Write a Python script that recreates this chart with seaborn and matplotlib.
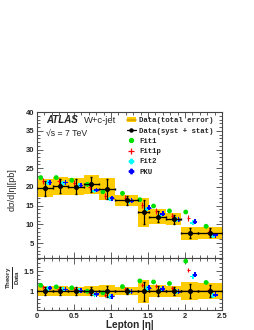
import numpy as np
import pandas as pd
import matplotlib
matplotlib.use("Agg")
import matplotlib.pyplot as plt
from matplotlib.lines import Line2D
from matplotlib.patches import Patch
from matplotlib.ticker import MultipleLocator
import seaborn as sns

# ---- data ----
bin_edges = [0, 0.21, 0.42, 0.63, 0.84, 1.05, 1.37, 1.52, 1.74, 1.95, 2.18, 2.5]
data_val = [19.6, 20.3, 20.1, 20.7, 19.5, 16.4, 13.2, 12.1, 11.4, 7.6, 7.8]
data_err_total = [2.4, 2.4, 2.3, 2.5, 2.9, 1.55, 3.8, 1.9, 1.6, 1.7, 1.6]
data_err_bar = [2.0, 1.9, 1.9, 2.0, 2.6, 1.3, 3.2, 1.5, 1.2, 1.3, 1.2]

fit1 = [22.5, 22.5, 21.8, 20.7, 18.7, 18.3, 16.6, 14.9, 13.6, 13.3, 9.5]
fit1p = [21.7, 21.6, 21.1, 19.9, 17.7, 17.1, 15.3, 13.6, 12.2, 11.6, 8.0]
fit2 = [21.1, 21.0, 20.3, 18.9, 16.8, 16.2, 14.1, 12.5, 11.2, 10.4, 6.9]
pku = [21.2, 21.2, 20.4, 19.2, 17.0, 16.3, 14.4, 12.8, 11.3, 10.7, 7.1]

model_names = ["Fit1", "Fit1p", "Fit2", "PKU"]
model_vals = [fit1, fit1p, fit2, pku]
model_shift = [-0.055, -0.02, 0.04, 0.07]
model_yerr = [0.35, 0.8, 0.35, 0.35]
model_colors = {"Fit1": "#00e000", "Fit1p": "#ff0000", "Fit2": "#00ffff", "PKU": "#0000ff"}
# Fit1p is drawn as bare error crosses, so it gets no marker here
model_markers = {"Fit1": "o", "Fit2": "P", "PKU": "P"}

sns.set_style("ticks")
plt.rcParams["font.family"] = ["Liberation Sans", "DejaVu Sans"]
plt.rcParams["mathtext.fontset"] = "custom"
plt.rcParams["mathtext.bf"] = "Liberation Sans:bold"
plt.rcParams["mathtext.rm"] = "Liberation Sans"

edges = np.array(bin_edges)
centers = 0.5 * (edges[:-1] + edges[1:])
widths = np.diff(edges)
dval = np.array(data_val)
etot = np.array(data_err_total)
ebar = np.array(data_err_bar)

rows = []
for name, vals, dx in zip(model_names, model_vals, model_shift):
    for c, v, d in zip(centers, vals, dval):
        rows.append({"model": name, "eta": c + dx, "xsec": v, "ratio": v / d})
df = pd.DataFrame(rows)

band_col = "#ffcc00"
band_line = "#d9a400"

fig = plt.figure(figsize=(2.55, 3.3), dpi=100)
ax = fig.add_axes([0.145, 0.218, 0.7255, 0.4424])
axr = fig.add_axes([0.145, 0.0606, 0.7255, 0.1576], sharex=ax)

# ---- upper panel ----
ax.bar(centers, 2 * etot, bottom=dval - etot, width=widths, color=band_col, lw=0, zorder=1)
ax.hlines(dval, edges[:-1], edges[1:], color=band_line, lw=1.0, zorder=1.5)
ax.errorbar(centers, dval, yerr=ebar, xerr=widths / 2, fmt="o", color="black",
            ms=2.6, lw=0.9, capsize=1.0, zorder=4)

for name, yerr in zip(model_names, model_yerr):
    sub = df[df.model == name]
    ax.errorbar(sub.eta, sub.xsec, yerr=yerr, xerr=0.02, fmt="none",
                ecolor=model_colors[name], lw=0.8, zorder=2)
    axr.errorbar(sub.eta, sub.ratio, yerr=yerr / 16, xerr=0.02, fmt="none",
                 ecolor=model_colors[name], lw=0.8, zorder=2)

sub = df[df.model != "Fit1p"]
pal = {k: model_colors[k] for k in model_markers}
sns.scatterplot(data=sub, x="eta", y="xsec", hue="model", style="model",
                palette=pal, markers=model_markers, s=12,
                edgecolor="none", legend=False, ax=ax, zorder=3)
sns.scatterplot(data=sub, x="eta", y="ratio", hue="model", style="model",
                palette=pal, markers=model_markers, s=12,
                edgecolor="none", legend=False, ax=axr, zorder=3)

ax.set_xlim(0, 2.5)
ax.set_ylim(1, 40)
ax.yaxis.set_minor_locator(MultipleLocator(1))
ax.set_yticks([5, 10, 15, 20, 25, 30, 35, 40])
ax.set_xlabel("")
ax.set_ylabel("dσ/d|η|[pb]", fontsize=6.5)
ax.yaxis.set_label_coords(-0.11, 0.47)
ax.tick_params(labelbottom=False)

ax.text(0.05, 0.945, "ATLAS", transform=ax.transAxes, fontsize=7,
        fontweight="bold", fontstyle="italic", va="center")
ax.text(0.255, 0.945, "W+c-jet", transform=ax.transAxes, fontsize=6.8, va="center")
ax.text(0.05, 0.855, "√s = 7 TeV", transform=ax.transAxes, fontsize=6.3, va="center")

handles = [
    (Patch(facecolor=band_col, edgecolor="none"), Line2D([], [], color=band_line, lw=1.2)),
    Line2D([], [], color="black", marker="o", ms=2.2, lw=0.9),
    Line2D([], [], color=model_colors["Fit1"], marker="o", ms=2.8, lw=0),
    Line2D([], [], color=model_colors["Fit1p"], marker="+", ms=5, lw=0, mew=0.9),
    Line2D([], [], color=model_colors["Fit2"], marker="P", ms=3.2, lw=0),
    Line2D([], [], color=model_colors["PKU"], marker="P", ms=3.2, lw=0),
]
labels = ["Data(total error)", "Data(syst + stat)", "Fit1", "Fit1p", "Fit2", "PKU"]
ax.legend(handles, labels, loc="upper left", bbox_to_anchor=(0.47, 0.985),
          frameon=False, handlelength=1.2, handletextpad=0.5, labelspacing=0.42,
          borderaxespad=0, prop={"family": "Liberation Mono", "weight": "bold", "size": 5.3})

# ---- ratio panel ----
rtot = etot / dval
rbar = ebar / dval
axr.bar(centers, 2 * rtot, bottom=1 - rtot, width=widths, color=band_col, lw=0, zorder=1)
axr.bar(centers, 0.06, bottom=0.97, width=widths, color=band_line, lw=0, zorder=1.5)
axr.errorbar(centers, np.ones_like(centers), yerr=rbar, xerr=widths / 2, fmt="o",
             color="black", ms=2.6, lw=0.9, capsize=1.0, zorder=4)

axr.set_ylim(0.53, 1.83)
axr.set_yticks([1, 1.5])
axr.set_yticklabels(["1", "1.5"])
axr.yaxis.set_minor_locator(MultipleLocator(0.1))
axr.set_xticks([0, 0.5, 1, 1.5, 2, 2.5])
axr.set_xticklabels(["0", "0.5", "1", "1.5", "2", "2.5"])
axr.xaxis.set_minor_locator(MultipleLocator(0.1))
axr.set_xlabel("Lepton |η|", fontsize=7.2, fontweight="bold", labelpad=0)
axr.set_ylabel(r"$\frac{\mathbf{Theory}}{\mathbf{Data}}$", fontsize=6.3)
axr.yaxis.set_label_coords(-0.081, 0.62)

for a in (ax, axr):
    a.tick_params(which="both", direction="in", top=True, right=True,
                  labelsize=5.5, width=0.6, color="#444444", pad=2)
    a.tick_params(which="major", length=4)
    a.tick_params(which="minor", length=2)
    for lab in a.get_xticklabels() + a.get_yticklabels():
        lab.set_fontweight("bold")
    for sp in a.spines.values():
        sp.set_linewidth(0.8)
        sp.set_color("#444444")

fig.savefig("out.png", dpi=100)
